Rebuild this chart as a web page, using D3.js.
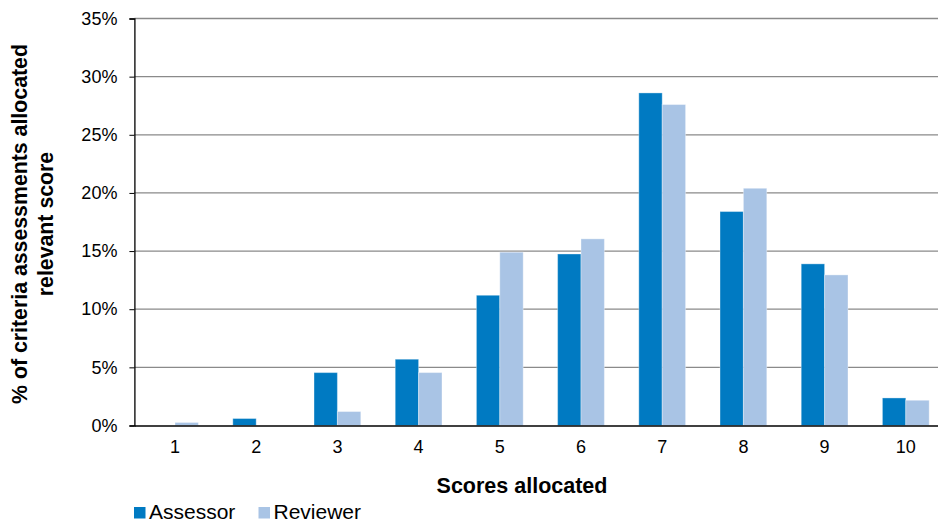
<!DOCTYPE html>
<html>
<head>
<meta charset="utf-8">
<script src="https://cdn.jsdelivr.net/npm/d3@7"></script>
<style>
  body { margin: 0; background: #fff; }
  svg { display: block; font-family: "Liberation Sans", Arial, sans-serif; }
</style>
</head>
<body>
<svg id="chart" width="938" height="521"></svg>
<script>
// Share of criteria assessments receiving each score
const scores = ["1", "2", "3", "4", "5", "6", "7", "8", "9", "10"];
const assessor = [0, 0.6, 4.55, 5.7, 11.2, 14.75, 28.6, 18.4, 13.9, 2.37];
const reviewer = [0.26, 0, 1.2, 4.55, 14.9, 16.05, 27.6, 20.4, 12.95, 2.17];
const seriesNames = ["Assessor", "Reviewer"];
const seriesColors = ["#007AC2", "#A9C4E5"];
const yTicks = [0, 5, 10, 15, 20, 25, 30, 35];

const svg = d3.select("#chart");
// the plot runs a little past the right edge of the canvas
const m = { left: 134.4, right: 946.4, top: 18.5, bottom: 425.5 };

const x = d3.scaleBand().domain(scores).range([m.left, m.right]).paddingInner(0.424).paddingOuter(0.212);
const xs = d3.scaleBand().domain(seriesNames).range([0, x.bandwidth()]);
const y = d3.scaleLinear().domain([0, 35]).range([m.bottom, m.top]);

// horizontal gridlines
svg.append("g").selectAll("line").data(yTicks.filter(d => d > 0)).join("line")
  .attr("x1", m.left).attr("x2", m.right)
  .attr("y1", d => y(d)).attr("y2", d => y(d))
  .attr("stroke", "#8a8a8a").attr("stroke-width", 1.3);

// bars
const rows = scores.map((s, i) => ({ s, vals: [assessor[i], reviewer[i]] }));
svg.append("g").selectAll("g").data(rows).join("g")
  .attr("transform", d => `translate(${x(d.s)},0)`)
  .selectAll("rect").data(d => d.vals.map((v, j) => ({ v, j }))).join("rect")
  .attr("x", d => xs(seriesNames[d.j]))
  .attr("width", xs.bandwidth())
  .attr("y", d => y(d.v))
  .attr("height", d => y(0) - y(d.v))
  .attr("fill", d => seriesColors[d.j])
  .attr("stroke", d => d.v > 0 ? "rgba(255,255,255,0.35)" : "none")
  .attr("stroke-width", 1);

// y axis
const yAxis = svg.append("g").attr("transform", `translate(${m.left},0)`)
  .call(d3.axisLeft(y).tickValues(yTicks).tickFormat(d => d + "%").tickSize(5).tickPadding(12));
yAxis.select(".domain").attr("stroke", "#000").attr("stroke-width", 1.3);
yAxis.selectAll(".tick line").attr("stroke", "#000");
yAxis.selectAll("text").attr("font-size", 18).attr("fill", "#000")
  .attr("font-family", "Liberation Sans, Arial, sans-serif");

// x axis
const xAxis = svg.append("g").attr("transform", `translate(0,${m.bottom})`)
  .call(d3.axisBottom(x).tickSize(0).tickPadding(15));
xAxis.select(".domain").attr("stroke", "#000").attr("stroke-width", 1.6);
xAxis.selectAll("text").attr("font-size", 18).attr("fill", "#000")
  .attr("font-family", "Liberation Sans, Arial, sans-serif");

// axis titles
const yTitle = svg.append("text")
  .attr("transform", "translate(27,224) rotate(-90)")
  .attr("text-anchor", "middle").attr("font-size", 21.3).attr("font-weight", "bold");
yTitle.append("tspan").attr("x", 0).attr("dy", 0).text("% of criteria assessments allocated");
yTitle.append("tspan").attr("x", 0).attr("dy", 26).text("relevant score");

svg.append("text").attr("x", 522).attr("y", 493)
  .attr("text-anchor", "middle").attr("font-size", 21.5).attr("font-weight", "bold")
  .text("Scores allocated");

// legend
const legend = svg.append("g").attr("transform", "translate(134,507)");
const lx = [0, 124.5];
seriesNames.forEach((name, i) => {
  const g = legend.append("g").attr("transform", `translate(${lx[i]},0)`);
  g.append("rect").attr("x", 0).attr("y", 0).attr("width", 11.5).attr("height", 11.5).attr("fill", seriesColors[i]);
  g.append("text").attr("x", 15).attr("y", 11.5).attr("font-size", 21).text(name);
});
</script>
</body>
</html>
